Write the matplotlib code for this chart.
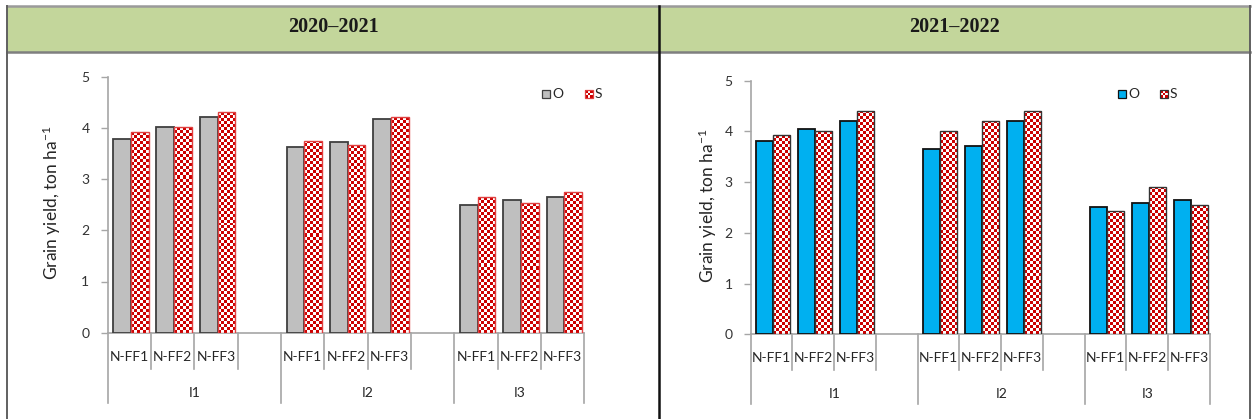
import numpy as np
import matplotlib
matplotlib.use("Agg")
import matplotlib.pyplot as plt
from matplotlib import transforms
from matplotlib.patches import Rectangle
from matplotlib.colors import ListedColormap

plt.rcParams["font.family"] = ["Lato", "DejaVu Sans"]
plt.rcParams["mathtext.fontset"] = "custom"
plt.rcParams["mathtext.rm"] = "Lato"
plt.rcParams["mathtext.it"] = "Lato:italic"

# ---- data ----
seasons = ["2020\u20132021", "2021\u20132022"]
groups = ["I1", "I2", "I3"]
treatments = ["N-FF1", "N-FF2", "N-FF3"]
series = ["O", "S"]

o_2020 = [3.78, 4.02, 4.21, 3.62, 3.72, 4.17, 2.50, 2.60, 2.65]
s_2020 = [3.92, 4.01, 4.31, 3.75, 3.66, 4.21, 2.65, 2.53, 2.74]
o_2021 = [3.81, 4.04, 4.21, 3.65, 3.72, 4.20, 2.50, 2.58, 2.64]
s_2021 = [3.92, 4.00, 4.40, 4.00, 4.20, 4.40, 2.44, 2.90, 2.54]

W, H = 1253, 419
fig = plt.figure(figsize=(W / 100, H / 100), dpi=100)
fig.patch.set_facecolor("white")

# pixel coordinates (origin top-left) -> figure
px = transforms.Affine2D().scale(1 / W, -1 / H).translate(0, 1) + fig.transFigure

# ---- table frame with header row ----
fig.patches.append(Rectangle((7, 6), 1243, 46, transform=px, facecolor="#c3d69b",
                             edgecolor="none", zorder=0))
for (x0, y0, x1, y1, c, lw) in [
    (7, 6, 1250, 6, "#9a9a9a", 1.8),
    (7, 52, 1250, 52, "#7f7f7f", 1.8),
    (7, 6, 7, 419, "#606060", 1.4),
    (659, 6, 659, 419, "#111111", 1.8),
    (1250, 6, 1250, 419, "#606060", 1.4),
]:
    fig.add_artist(plt.Line2D([x0, x1], [y0, y1], transform=px, color=c, lw=lw))

header_x = [333, 955]
for hx, s in zip(header_x, seasons):
    fig.text(hx, 27, s, transform=px, ha="center", va="center",
             fontsize=14.5, fontweight="bold", family="Liberation Serif", color="#1a1a1a")

# ---- panels ----
panels = [
    dict(rect=(107.5, 76.7, 584.3, 332.7), o=o_2020, s=s_2020,
         ocol="#bfbfbf", oedge="#3f3f3f", sedge="#e04040",
         ylab_x=52, leg=(542, 585)),
    dict(rect=(750.7, 80.7, 1210.0, 334.3), o=o_2021, s=s_2021,
         ocol="#00b0f0", oedge="#111111", sedge="#333333",
         ylab_x=708, leg=(1118, 1160)),
]

checker_cmap = ListedColormap(["#cc0000", "#ffffff"])
slot_x = np.array([0, 1, 2, 4, 5, 6, 8, 9, 10]) + 0.5
bw = 0.41
shift = 0.04


def checker(ax, bar, nx, ny, zorder):
    x0, y0 = bar.get_x(), bar.get_y()
    arr = (np.add.outer(np.arange(ny), np.arange(nx)) % 2)
    im = ax.imshow(arr, extent=[x0, x0 + bar.get_width(), y0, y0 + bar.get_height()],
                   origin="lower", aspect="auto", interpolation="nearest",
                   cmap=checker_cmap, vmin=0, vmax=1, zorder=zorder)
    im.set_clip_path(bar)


for p in panels:
    l, t, r, b = p["rect"]
    ax = fig.add_axes([l / W, 1 - b / H, (r - l) / W, (b - t) / H])
    ax.set_xlim(0, 11)
    ax.set_ylim(0, 5)
    px_per_x = (r - l) / 11
    px_per_y = (b - t) / 5

    ob = ax.bar(slot_x + shift - bw / 2, p["o"], width=bw, color=p["ocol"],
                edgecolor=p["oedge"], linewidth=1.3, zorder=3)
    sb = ax.bar(slot_x + shift + bw / 2, p["s"], width=bw, facecolor="none",
                edgecolor=p["sedge"], linewidth=1.0, zorder=4)
    for bar in sb:
        nx = max(2, int(round(bar.get_width() * px_per_x / 3.0)))
        ny = max(2, int(round(bar.get_height() * px_per_y / 3.0)))
        checker(ax, bar, nx, ny, 3.5)
    ax.set_xlim(0, 11)
    ax.set_ylim(0, 5)

    for side in ["top", "right"]:
        ax.spines[side].set_visible(False)
    ax.spines["left"].set_color("#a6a6a6")
    ax.spines["bottom"].set_color("#a6a6a6")
    ax.spines["left"].set_linewidth(1.2)
    ax.spines["bottom"].set_linewidth(1.2)
    ax.set_yticks(range(6))
    ax.tick_params(axis="y", length=5, width=1.0, color="#a6a6a6",
                   labelsize=10, labelcolor="#333333", pad=8)
    ax.set_xticks([])
    ax.set_facecolor("none")

    fig.text(p["ylab_x"], (t + b) / 2 - 2, r"Grain yield, ton ha$^{\mathregular{-1}}$",
             transform=px, rotation=90, ha="center", va="center",
             fontsize=12.5, color="#262626")

    # category axis: tick separators and labels below the plot
    bt = transforms.blended_transform_factory(ax.transData, px)
    for k in range(12):
        long_line = k in (0, 4, 8, 11)
        y_end = b + (70 if long_line else 36)
        ax.plot([k, k], [b, y_end], transform=bt, color="#a6a6a6", lw=1.2,
                clip_on=False, zorder=1)
    for xc, lab in zip(slot_x, treatments * 3):
        ax.text(xc, b + 24, lab, transform=bt, ha="center", va="center",
                fontsize=10, color="#262626")
    for gi, g in enumerate(groups):
        x_lo = gi * 4
        x_hi = min(gi * 4 + 4, 11)
        ax.text((x_lo + x_hi) / 2, b + 60, g, transform=bt, ha="center",
                va="center", fontsize=10, color="#262626")

    # legend
    lo, ls = p["leg"]
    fig.patches.append(Rectangle((lo, 90), 8, 8, transform=px, facecolor=p["ocol"],
                                 edgecolor=p["oedge"], lw=0.9, zorder=5))
    fig.text(lo + 10, 94.5, series[0], transform=px, ha="left", va="center",
             fontsize=10, color="#262626")
    cs = 8 / 3
    for i in range(3):
        for j in range(3):
            col = "#cc0000" if (i + j) % 2 == 0 else "white"
            fig.patches.append(Rectangle((ls + j * cs, 90 + i * cs), cs, cs, transform=px,
                                         facecolor=col, edgecolor="none", zorder=5))
    fig.patches.append(Rectangle((ls, 90), 8, 8, transform=px, facecolor="none",
                                 edgecolor=p["sedge"], lw=0.9, zorder=6))
    fig.text(ls + 10, 94.5, series[1], transform=px, ha="left", va="center",
             fontsize=10, color="#262626")

fig.savefig("out.png", dpi=100, facecolor="white")
